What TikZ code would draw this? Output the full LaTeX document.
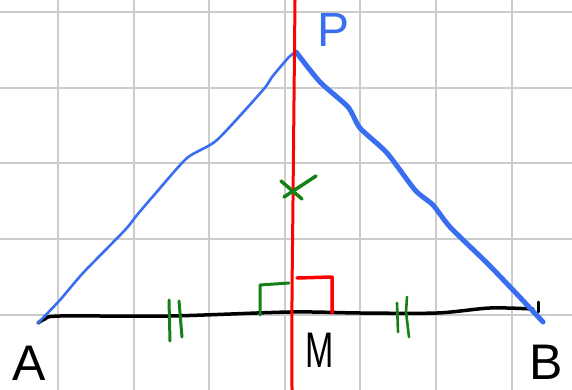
\documentclass[tikz,border=0pt]{standalone}
\usepackage{fontspec}
\setmainfont{Liberation Sans}
\definecolor{gridc}{RGB}{204,204,204}
\definecolor{penblue}{RGB}{58,110,240}
\definecolor{penred}{RGB}{255,0,0}
\definecolor{pengreen}{RGB}{22,128,22}
\tikzset{
  gridline/.style={gridc, line width=2pt},
  pen/.style={line cap=round, line join=round},
  blueline/.style={pen, penblue},
  blackline/.style={pen, black, line width=3.5pt},
  redline/.style={pen, penred, line width=3pt},
  greenmark/.style={pen, pengreen, line width=3pt},
  lab/.style={inner sep=0pt, anchor=base, font=\fontsize{50}{50}\selectfont}
}
\begin{document}
\begin{tikzpicture}[x=1pt,y=-1pt]
\useasboundingbox (0,0) rectangle (572,390);
\fill[white] (0,0) rectangle (572,390);
% grid
\foreach \gx in {58,133.6,209.2,284.8,360.4,436,511.6}
  \draw[gridline] (\gx,0) -- (\gx,390);
\foreach \gy in {12,87.7,163.4,239.1,314.8}
  \draw[gridline] (0,\gy) -- (572,\gy);
% key points
\coordinate (A) at (38,323);
\coordinate (P) at (296,52);
\coordinate (B) at (543,322);
\coordinate (Bend) at (533,309);
\coordinate (Ttop) at (295,0);
\coordinate (Tbot) at (292,390);
% base AB
\draw[blackline] plot[smooth, tension=0.5] coordinates {(A) (45,319) (60,316) (170,316) (290,312) (360,313) (437,313) (490,308) (Bend)};
\draw[blackline, line width=3pt] (538,302) -- (538,312);
% side AP (thin)
\draw[blueline, line width=2.6pt] plot[smooth, tension=0.4] coordinates {(A) (60,300) (83,273) (125,230) (137,215) (155,194) (187,158) (217,140) (263,90) (272,77) (289,57) (P)};
% side PB (thick)
\draw[blueline, line width=5pt] plot[smooth, tension=0.4] coordinates {(P) (320,82) (348,107) (360,128) (387,153) (415,190) (433,205) (450,227) (487,263) (513,290) (B)};
% perpendicular bisector
\draw[redline] plot[smooth, tension=0.5] coordinates {(Ttop) (294,100) (293,200) (292,300) (Tbot)};
% right angle marks
\draw[greenmark] (260,315) -- (260,285) -- (289,283);
\draw[redline, line width=3.5pt] (297,278) -- (332,277) -- (332,313);
% equal-length ticks
\draw[greenmark] (169,300) -- (170,341);
\draw[greenmark] (179,301) -- (182,337);
\draw[greenmark, line width=2.6pt] (397,303) -- (398,332);
\draw[greenmark, line width=2.6pt] (407,297) -- (406,312) -- (409,337);
% the point on the bisector
\draw[greenmark, line width=3.5pt] (281,181) -- (302,199);
\draw[greenmark, line width=3.5pt] (316,176) -- (284,197);
% labels
\node[lab, text=penblue, font=\fontsize{48}{48}\selectfont] (labP) at (334,47) {P};
\node[lab] (labA) at (29,380) {A};
\node[lab, xscale=0.68] (labM) at (320,367) {M};
\node[lab] (labB) at (546,379) {B};
\end{tikzpicture}
\end{document}
